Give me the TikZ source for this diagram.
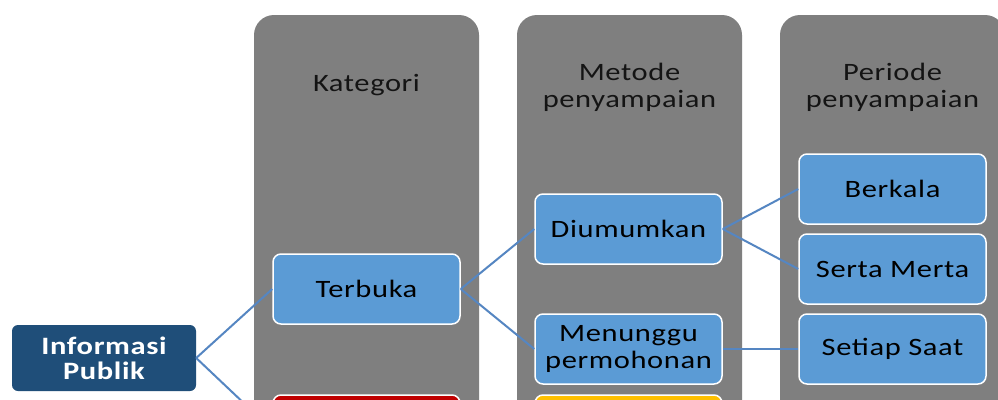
\documentclass[tikz,border=0pt]{standalone}
\usepackage{fontspec}
\setmainfont{Carlito}[FakeStretch=1.22,LetterSpace=2.5]
\definecolor{colgray}{HTML}{7F7F7F}
\definecolor{boxblue}{HTML}{5B9BD5}
\definecolor{linkblue}{HTML}{5586C2}
\definecolor{navy}{HTML}{1F4E79}
\definecolor{dred}{HTML}{C00000}
\definecolor{dyellow}{HTML}{FFC000}
\definecolor{headtext}{HTML}{141414}
\begin{document}
\begin{tikzpicture}[x=1pt,y=-1pt,
  col/.style={fill=colgray, rounded corners=20pt, minimum width=225pt, minimum height=485pt, inner sep=0pt},
  head/.style={text=headtext, font=\fontsize{25}{27}\selectfont, align=center, inner sep=0pt},
  box/.style={fill=boxblue, draw=white, line width=1.5pt, rounded corners=8pt, minimum width=187pt, minimum height=70pt, inner sep=0pt, font=\fontsize{25}{27}\selectfont, align=center, text=black},
  link/.style={draw=linkblue, line width=2pt}]
\useasboundingbox (0,0) rectangle (998,399);
\clip (0,0) rectangle (998,399);
\fill[white] (0,0) rectangle (998,399);
% columns
\node[col] (c1) at (366.5,257.5) {};
\node[col] (c2) at (629.5,257.5) {};
\node[col] (c3) at (892.5,257.5) {};
\node[head] (h1) at (366.5,85) {Kategori};
\node[head] (h2) at (629.5,87) {Metode\\penyampaian};
\node[head] (h3) at (892.5,87) {Periode\\penyampaian};
% nodes
\node[fill=navy, rounded corners=6pt, minimum width=184pt, minimum height=66pt, inner sep=0pt,
      text=white, font=\fontsize{25}{25}\selectfont\bfseries, align=center] (info) at (104,358) {Informasi\\Publik};
\node[box] (terbuka) at (366.5,289) {Terbuka};
\node[box, fill=dred] (kec) at (366.5,430) {};
\node[box] (umum) at (628.5,229) {Diumumkan};
\node[box] (tunggu) at (628.5,349) {Menunggu\\permohonan};
\node[box, fill=dyellow] (kuning) at (628.5,430) {};
\node[box] (berkala) at (892.5,189) {Berkala};
\node[box] (serta) at (892.5,269) {Serta Merta};
\node[box] (setiap) at (892.5,349) {Setiap Saat};
% connectors
\draw[link] (info.east) -- (terbuka.west);
\draw[link] (info.east) -- (kec.west);
\draw[link] (terbuka.east) -- (umum.west);
\draw[link] (terbuka.east) -- (tunggu.west);
\draw[link] (umum.east) -- (berkala.west);
\draw[link] (umum.east) -- (serta.west);
\draw[link] (tunggu.east) -- (setiap.west);
\end{tikzpicture}
\end{document}
